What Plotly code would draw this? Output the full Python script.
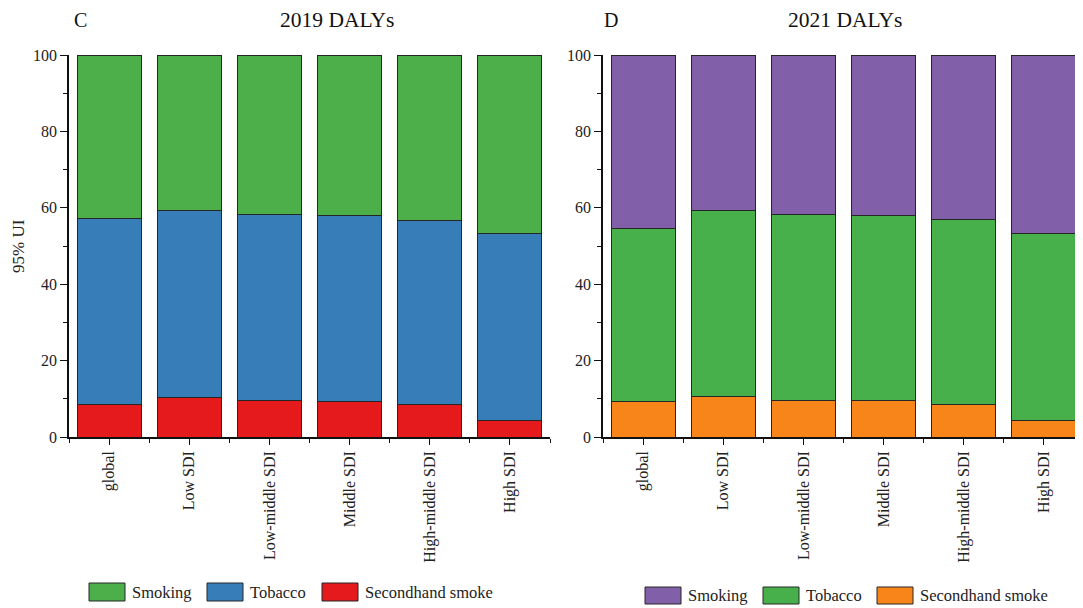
import plotly.graph_objects as go

# Page offset: the browser body has an 8px margin, so the figure starts at (8, 8)
# and is sized to reach the window's right/bottom edges.
OFF = 8
W, H = 1083 - OFF, 608 - OFF

categories = ["global", "Low SDI", "Low-middle SDI", "Middle SDI", "High-middle SDI", "High SDI"]
series_names = ["Smoking", "Tobacco", "Secondhand smoke"]

# 2019 DALYs (segment heights, %)
smoking_2019 = [42.7, 40.8, 41.7, 42.1, 43.2, 46.7]
tobacco_2019 = [48.7, 48.8, 48.7, 48.6, 48.3, 49.0]
secondhand_2019 = [8.6, 10.4, 9.6, 9.3, 8.5, 4.3]

# 2021 DALYs (segment heights, %)
smoking_2021 = [45.4, 40.7, 41.8, 42.0, 43.1, 46.7]
tobacco_2021 = [45.4, 48.8, 48.6, 48.5, 48.4, 49.1]
secondhand_2021 = [9.2, 10.5, 9.6, 9.5, 8.5, 4.2]

colors_2019 = ["#4DAF4A", "#377EB8", "#E41A1C"]
colors_2021 = ["#825FA9", "#48B04A", "#F8851A"]

FONT = "Liberation Serif"
EDGE = "#262626"

def px_x(p):
    return (p - OFF) / W

def px_y(p):
    return 1 - (p - OFF) / H

x_idx = list(range(len(categories)))

fig = go.Figure()

panels = [
    ("x", "y", [smoking_2019, tobacco_2019, secondhand_2019], colors_2019),
    ("x2", "y2", [smoking_2021, tobacco_2021, secondhand_2021], colors_2021),
]
for xa, ya, vals, cols in panels:
    # bottom to top: secondhand, tobacco, smoking
    for i in [2, 1, 0]:
        fig.add_trace(go.Bar(
            x=x_idx, y=vals[i], name=series_names[i], xaxis=xa, yaxis=ya,
            marker=dict(color=cols[i], line=dict(color=EDGE, width=1)),
            showlegend=False,
        ))

ydom = [px_y(437), px_y(55)]
xdom1 = [px_x(69), px_x(550)]
# right panel's axis runs to the page edge; keep category width equal to left panel
x2_start = px_x(603)
x2_end = 1.0
cat_w = (550 - 69) / 6.0
x2_range_end = -0.5 + (x2_end * W + OFF - 603) / cat_w
xdom2 = [x2_start, x2_end]

tickfont = dict(family=FONT, size=16, color="#222")

def xaxis(dom, anchor, rng):
    return dict(
        domain=dom, anchor=anchor, range=rng,
        tickmode="array", tickvals=x_idx, ticktext=categories,
        tickangle=-90, ticks="outside", ticklen=6, tickwidth=1.3, tickcolor="#111",
        showline=True, linecolor="#111", linewidth=1.5,
        showgrid=False, zeroline=False, tickfont=dict(family=FONT, size=16, color="#222"),
        minor=dict(tickmode="linear", tick0=0.5, dtick=1, ticks="outside", ticklen=4,
                   tickwidth=1.3, tickcolor="#111", showgrid=False),
        automargin=False, fixedrange=True,
    )

def yaxis(anchor):
    return dict(
        domain=ydom, anchor=anchor, range=[0, 100],
        tickmode="linear", tick0=0, dtick=20,
        ticks="outside", ticklen=7, tickwidth=1.3, tickcolor="#111",
        showline=True, linecolor="#111", linewidth=1.5,
        showgrid=False, zeroline=False, tickfont=tickfont,
        minor=dict(dtick=10, ticks="outside", ticklen=4, tickwidth=1.3,
                   tickcolor="#111", showgrid=False),
        automargin=False, fixedrange=True,
    )

fig.update_layout(
    width=W, height=H,
    margin=dict(l=0, r=0, t=0, b=0),
    paper_bgcolor="white", plot_bgcolor="white",
    barmode="stack", bargap=0.2,
    font=dict(family=FONT, color="#222"),
    xaxis=xaxis(xdom1, "y", [-0.5, 5.5]),
    yaxis=yaxis("x"),
    xaxis2=xaxis(xdom2, "y2", [-0.5, x2_range_end]),
    yaxis2=yaxis("x2"),
    showlegend=False,
)

annotations = []
shapes = []

# Y-axis title for left panel
annotations.append(dict(text="95% UI", x=px_x(18), y=px_y(246), xref="paper", yref="paper",
                        textangle=-90, showarrow=False, xanchor="center", yanchor="middle",
                        font=dict(family=FONT, size=17, color="#222")))

# Panel titles
for letter, lx, title, tx in [("C", 80, "2019 DALYs", 337), ("D", 611, "2021 DALYs", 845)]:
    annotations.append(dict(text=letter, x=px_x(lx), y=px_y(20), xref="paper", yref="paper",
                            showarrow=False, xanchor="center", yanchor="middle",
                            font=dict(family=FONT, size=20, color="#111")))
    annotations.append(dict(text=title, x=px_x(tx), y=px_y(20), xref="paper", yref="paper",
                            showarrow=False, xanchor="center", yanchor="middle",
                            font=dict(family=FONT, size=21.5, color="#111")))

# Custom legends (swatch boxes + labels)
legend_specs = [
    (colors_2019, [89, 207, 322], 583, 601),
    (colors_2021, [645, 763, 877], 587, 604),
]
for cols, xs, y0, y1 in legend_specs:
    for col, name, sx in zip(cols, series_names, xs):
        shapes.append(dict(type="rect", xref="paper", yref="paper",
                           x0=px_x(sx), x1=px_x(sx + 36), y0=px_y(y1), y1=px_y(y0),
                           fillcolor=col, line=dict(color=EDGE, width=1)))
        annotations.append(dict(text=name, x=px_x(sx + 41), y=px_y((y0 + y1) / 2),
                                xref="paper", yref="paper", showarrow=False,
                                xanchor="left", yanchor="middle",
                                font=dict(family=FONT, size=16.5, color="#222")))

fig.update_layout(annotations=annotations, shapes=shapes)

fig.write_html("out.html")
